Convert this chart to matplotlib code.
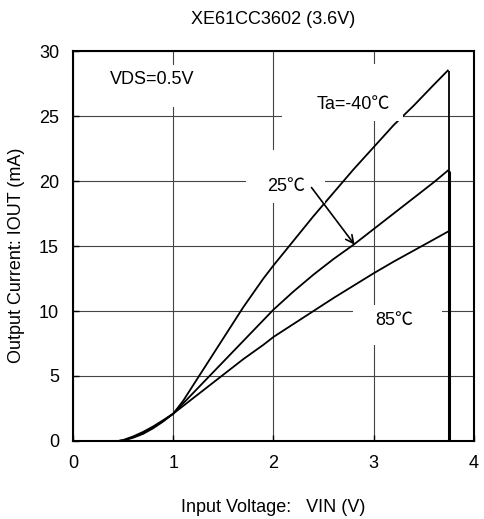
import matplotlib
matplotlib.use("Agg")
import matplotlib.pyplot as plt
from matplotlib.patches import Rectangle

plt.rcParams['font.family'] = ['Liberation Sans', 'Noto Sans CJK JP', 'DejaVu Sans']

# ---- data ----
vin = [0.45, 0.5, 0.6, 0.7, 0.8, 0.9, 1.0, 1.1, 1.2, 1.3, 1.4, 1.5, 1.6, 1.7,
       1.8, 1.9, 2.0, 2.2, 2.4, 2.6, 2.8, 3.0, 3.2, 3.4, 3.6, 3.74]
iout_m40 = [0.0, 0.03, 0.25, 0.55, 0.98, 1.5, 2.1, 3.1, 4.3, 5.5, 6.7, 7.9,
            9.1, 10.3, 11.4, 12.5, 13.5, 15.4, 17.3, 19.1, 20.9, 22.6, 24.3,
            25.8, 27.4, 28.5]
iout_25 = [0.0, 0.05, 0.3, 0.62, 1.05, 1.55, 2.1, 2.9, 3.7, 4.5, 5.3, 6.1,
           6.9, 7.7, 8.5, 9.3, 10.1, 11.5, 12.8, 14.0, 15.1, 16.3, 17.5,
           18.7, 19.9, 20.8]
iout_85 = [0.0, 0.07, 0.35, 0.7, 1.12, 1.6, 2.1, 2.7, 3.3, 3.9, 4.5, 5.1,
           5.7, 6.3, 6.85, 7.4, 8.0, 9.0, 10.0, 11.0, 11.95, 12.9, 13.8,
           14.65, 15.5, 16.1]
vin_cutoff = 3.75
series = [iout_m40, iout_25, iout_85]

xticks = [0, 1, 2, 3, 4]
yticks = [0, 5, 10, 15, 20, 25, 30]

FS = 13

fig = plt.figure(figsize=(4.85, 5.19), dpi=100)
ax = fig.add_axes([0.1505, 0.1503, 0.977 - 0.1505, 0.9017 - 0.1503])
ax.set_xlim(0, 4)
ax.set_ylim(0, 30)
ax.set_xticks(xticks)
ax.set_yticks(yticks)
ax.tick_params(direction='in', length=4, width=1, labelsize=FS, pad=10)
ax.grid(True, color='#444444', linewidth=0.8)
ax.set_axisbelow(True)
for s in ax.spines.values():
    s.set_linewidth(1.5)

for ys in series:
    ax.plot(vin, ys, color='black', linewidth=1.3, zorder=3)
    ax.vlines(vin_cutoff, 0, ys[-1], color='black', linewidth=1.3, zorder=3)
ax.vlines(vin_cutoff, 0, iout_25[-1], color='black', linewidth=2.2, zorder=3)

# white masks behind labels (layout)
masks = [(0.02, 25.7, 1.5, 3.2), (2.09, 24.6, 1.2, 4.4),
         (1.73, 18.3, 0.78, 4.1), (2.79, 7.4, 0.89, 3.1)]
for (mx, my, mw, mh) in masks:
    ax.add_patch(Rectangle((mx, my), mw, mh, facecolor='white', edgecolor='none', zorder=4))

ax.text(0.79, 27.8, 'VDS=0.5V', ha='center', va='center', fontsize=FS, zorder=5)
ax.text(2.80, 25.9, 'Ta=-40℃', ha='center', va='center', fontsize=FS, zorder=5)
ax.text(2.13, 19.6, '25℃', ha='center', va='center', fontsize=FS, zorder=5)
ax.text(3.21, 9.3, '85℃', ha='center', va='center', fontsize=FS, zorder=5)

ax.annotate('', xy=(2.81, 15.1), xytext=(2.38, 19.5),
            arrowprops=dict(arrowstyle='->', color='black', lw=1.2,
                            mutation_scale=14, shrinkA=0, shrinkB=0), zorder=6)

cx = 0.5 * (0.1505 + 0.977)
fig.text(cx, 1 - 20 / 519, 'XE61CC3602 (3.6V)', ha='center', va='center', fontsize=FS)
fig.text(cx, 1 - 507 / 519, 'Input Voltage:   VIN (V)', ha='center', va='center', fontsize=FS)
fig.text(17 / 485, 1 - 255 / 519, 'Output Current: IOUT (mA)', ha='center', va='center',
         rotation=90, fontsize=FS)

fig.savefig('out.png', dpi=100)
